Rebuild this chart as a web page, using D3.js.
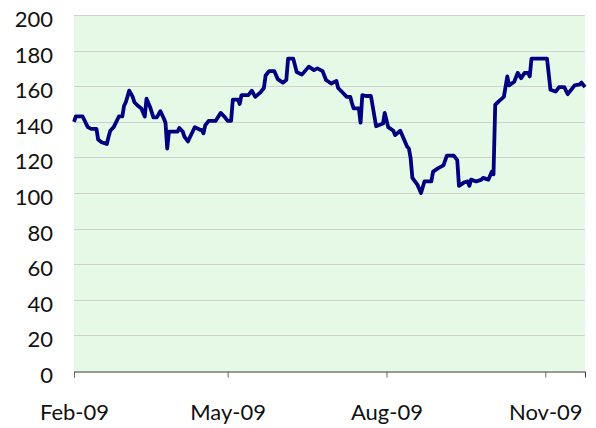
<!DOCTYPE html>
<html>
<head>
<meta charset="utf-8">
<script src="https://cdn.jsdelivr.net/npm/d3@7"></script>
<style>
  body { margin: 0; background: white; }
</style>
</head>
<body>
<div id="chart"></div>
<script>
// price series

let dates = [
    "2009-02-01", "2009-02-02", "2009-02-06", "2009-02-07", "2009-02-09", "2009-02-11",
    "2009-02-14", "2009-02-15", "2009-02-17", "2009-02-20", "2009-02-21", "2009-02-22",
    "2009-02-24", "2009-02-27", "2009-03-01", "2009-03-02", "2009-03-03", "2009-03-05",
    "2009-03-07", "2009-03-08", "2009-03-10", "2009-03-12", "2009-03-14", "2009-03-15",
    "2009-03-17", "2009-03-19", "2009-03-21", "2009-03-23", "2009-03-25", "2009-03-26",
    "2009-03-27", "2009-03-28", "2009-04-02", "2009-04-03", "2009-04-05", "2009-04-06",
    "2009-04-08", "2009-04-10", "2009-04-12", "2009-04-15", "2009-04-16", "2009-04-17",
    "2009-04-18", "2009-04-20", "2009-04-24", "2009-04-27", "2009-04-29", "2009-05-01",
    "2009-05-03", "2009-05-04", "2009-05-07", "2009-05-08", "2009-05-09", "2009-05-13",
    "2009-05-15", "2009-05-17", "2009-05-20", "2009-05-22", "2009-05-23", "2009-05-25",
    "2009-05-28", "2009-05-30", "2009-06-02", "2009-06-04", "2009-06-05", "2009-06-08",
    "2009-06-10", "2009-06-13", "2009-06-17", "2009-06-20", "2009-06-22", "2009-06-25",
    "2009-06-27", "2009-06-30", "2009-07-03", "2009-07-04", "2009-07-06", "2009-07-09",
    "2009-07-11", "2009-07-12", "2009-07-13", "2009-07-16", "2009-07-17", "2009-07-18",
    "2009-07-20", "2009-07-23", "2009-07-26", "2009-07-30", "2009-07-31", "2009-08-02",
    "2009-08-05", "2009-08-06", "2009-08-09", "2009-08-13", "2009-08-14", "2009-08-15",
    "2009-08-16", "2009-08-19", "2009-08-21", "2009-08-23", "2009-08-27", "2009-08-28",
    "2009-08-31", "2009-09-03", "2009-09-05", "2009-09-09", "2009-09-11", "2009-09-12",
    "2009-09-15", "2009-09-17", "2009-09-18", "2009-09-19", "2009-09-22", "2009-09-25",
    "2009-09-26", "2009-09-29", "2009-10-01", "2009-10-02", "2009-10-03", "2009-10-05",
    "2009-10-08", "2009-10-10", "2009-10-11", "2009-10-14", "2009-10-16", "2009-10-18",
    "2009-10-20", "2009-10-22", "2009-10-23", "2009-10-24", "2009-11-02", "2009-11-04",
    "2009-11-07", "2009-11-09", "2009-11-12", "2009-11-14", "2009-11-18", "2009-11-21",
    "2009-11-22", "2009-11-24"
]

let prices = [
    140, 143, 143, 141, 137, 136,
    136, 130, 128.5, 127.5, 131.5, 135,
    137, 143, 143, 149, 151, 157.5,
    154, 151, 149, 147.5, 143, 153,
    148.5, 142.5, 142.5, 146, 142, 139.5,
    125, 134.5, 134.5, 136.5, 134.5, 131.5,
    129, 133, 137, 135.5, 135.5, 133.5,
    138, 140.5, 140.5, 145, 143, 140.5,
    140.5, 152.5, 152.5, 150, 155, 155,
    157.5, 154, 156.5, 159, 166, 168.5,
    168.5, 164, 162, 163.5, 175.5, 175.5,
    168, 166.5, 171, 169, 170, 168.5,
    163.5, 161.5, 163, 159, 157, 154,
    154, 150.5, 147.5, 147.5, 139.5, 155,
    154.5, 154.5, 137.5, 139, 145, 137,
    135, 132.5, 135, 126, 125, 119.5,
    108.5, 104.5, 100, 106.5, 106.5, 112,
    114, 115.5, 121, 121, 118.5, 104,
    106, 106.5, 104, 107.5, 106.5, 107.5,
    108.5, 107.5, 112, 110.5, 149.5, 151.5,
    154, 165.5, 160.5, 162.5, 167.5, 164.5,
    167.5, 167.5, 165.5, 175.5, 175.5, 158,
    157, 159.5, 159.5, 155.5, 160.5, 161,
    162, 159.5
]

let yTicks = [0, 20, 40, 60, 80, 100, 120, 140, 160, 180, 200]
let xTicks = ["2009-02-01", "2009-05-01", "2009-08-01", "2009-11-01"]
let xDomain = ["2009-02-01", "2009-11-24"]

let width = 596;
let height = 428;
let margin = { top: 15, right: 11, bottom: 57, left: 74 };

let parse = d3.timeParse("%Y-%m-%d");
let data = dates.map((d, i) => ({ date: parse(d), value: prices[i] }));

let svg = d3.select("#chart").append("svg")
    .attr("width", width)
    .attr("height", height)
    .style("font-family", "Lato, 'Open Sans', sans-serif");

let x = d3.scaleTime()
    .domain(xDomain.map(parse))
    .range([margin.left, width - margin.right]);

let y = d3.scaleLinear()
    .domain([0, 200])
    .range([height - margin.bottom, margin.top]);

// plot area background
svg.append("rect")
    .attr("x", margin.left)
    .attr("y", margin.top)
    .attr("width", width - margin.left - margin.right)
    .attr("height", height - margin.top - margin.bottom)
    .attr("fill", "#e6f9e6");

// gridlines
svg.append("g")
    .selectAll("line")
    .data(yTicks.slice(1))
    .join("line")
    .attr("x1", margin.left)
    .attr("x2", width - margin.right)
    .attr("y1", d => Math.round(y(d)) + 0.5)
    .attr("y2", d => Math.round(y(d)) + 0.5)
    .attr("stroke", "#d0d0d0")
    .attr("stroke-width", 1);

// y labels, no axis line (sit a few px below their gridline, like excel)
svg.append("g")
    .selectAll("text")
    .data(yTicks)
    .join("text")
    .attr("x", 53)
    .attr("y", d => y(d) + 4)
    .attr("dy", "0.36em")
    .attr("text-anchor", "end")
    .attr("font-size", 22)
    .attr("fill", "#111")
    .text(d => d);

// x axis
let xAxis = svg.append("g")
    .attr("transform", `translate(0, ${Math.round(y(0)) + 0.5})`)
    .call(d3.axisBottom(x)
        .tickValues(xTicks.map(parse))
        .tickSize(6)
        .tickFormat(d3.timeFormat("%b-%y")));

xAxis.select(".domain").attr("stroke", "#333");
xAxis.selectAll(".tick line").attr("stroke", "#666");
xAxis.selectAll(".tick text")
    .attr("font-family", "Lato, 'Open Sans', sans-serif")
    .attr("font-size", 22)
    .attr("fill", "#111")
    .attr("y", 33);

// the series
let line = d3.line()
    .x(d => x(d.date))
    .y(d => y(d.value));

svg.append("path")
    .datum(data)
    .attr("d", line)
    .attr("fill", "none")
    .attr("stroke", "#000080")
    .attr("stroke-width", 3.8)
    .attr("stroke-linejoin", "round");
</script>
</body>
</html>
